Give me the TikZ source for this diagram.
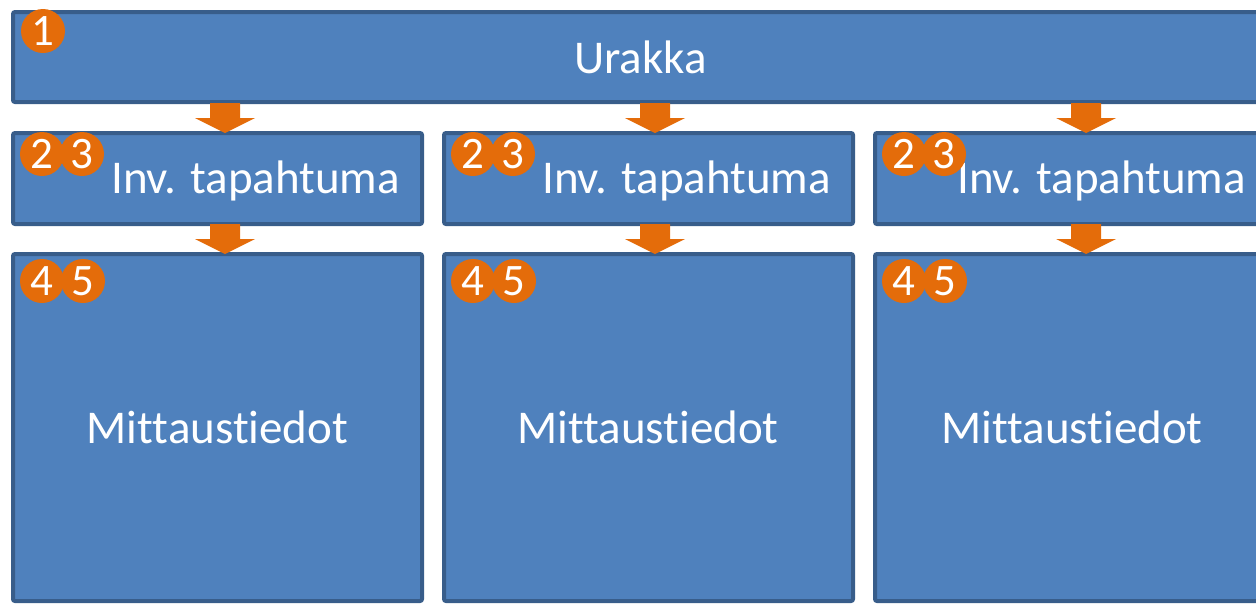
\documentclass[tikz,border=0pt]{standalone}
\usepackage{fontspec}
\setmainfont{Carlito}[Ligatures=NoCommon]
\definecolor{boxfill}{HTML}{4F81BD}
\definecolor{boxline}{HTML}{385D8A}
\definecolor{badgecol}{HTML}{E46C0A}
\newcommand{\bigfont}{\fontsize{47}{56}\selectfont}
\newcommand{\digfont}{\fontsize{45}{54}\selectfont}
\tikzset{
  panel/.style={draw=boxline, fill=boxfill, line width=4pt, rounded corners=2pt,
    inner sep=0pt, anchor=north west, rectangle},
  lbl/.style={text=white, font=\bigfont, inner sep=0pt},
  badgenode/.style={circle, fill=badgecol, minimum size=44pt, inner sep=0pt,
    text=white, font=\digfont},
  blockarrow/.pic={
    \fill[badgecol] (-15,0) -- (15,0) -- (15,15) -- (30,15) -- (0,30)
      -- (-30,15) -- (-15,15) -- cycle;
  }
}
\begin{document}
\begin{tikzpicture}[x=1pt,y=-1pt]
\useasboundingbox (0,0) rectangle (1256,603);
\clip (0,0) rectangle (1256,603);
% top box
\node[panel, minimum width=1290pt, minimum height=90pt] (urakka) at (11,10) {};
\node[lbl, anchor=base] (urakkatxt) at (640.5,73) {Urakka};
\node[badgenode] (b1) at (43,31) {1};
% columns
\foreach \i/\L/\A/\T/\M in {1/11/225/100/206.5, 2/442/655/100/206, 3/873/1086/84/199} {
  \node[panel, minimum width=409pt, minimum height=91pt] (inv\i) at (\L,131) {};
  \node[panel, minimum width=409pt, minimum height=347pt] (mit\i) at (\L,252) {};
  \node[lbl, anchor=base west] (invtxt\i) at (\L+\T,193) {Inv. tapahtuma};
  \node[lbl, anchor=base] (mittxt\i) at (\L+\M,443) {Mittaustiedot};
  \pic at (\A,103) {blockarrow};
  \pic at (\A,224) {blockarrow};
  \node[badgenode] (b2\i) at (\L+31,154) {2};
  \node[badgenode] (b3\i) at (\L+71,154) {3};
  \node[badgenode] (b4\i) at (\L+31,281) {4};
  \node[badgenode] (b5\i) at (\L+72,281) {5};
}
\end{tikzpicture}
\end{document}
